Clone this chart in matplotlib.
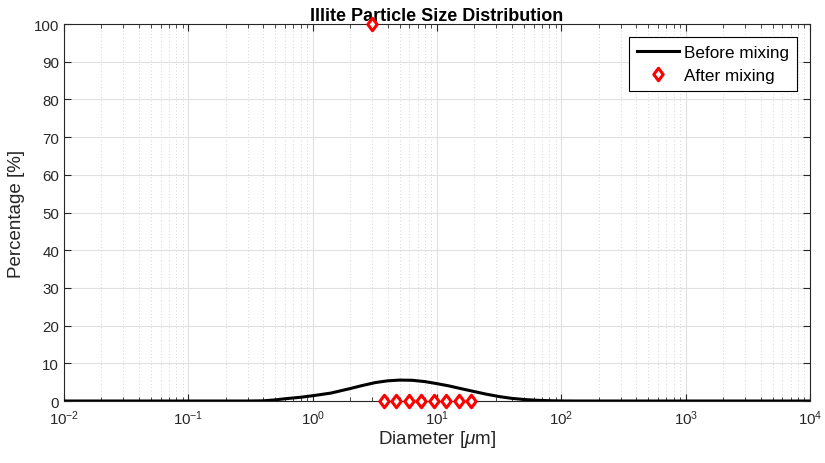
import matplotlib
matplotlib.use('Agg')
import matplotlib.pyplot as plt
from matplotlib.path import Path
from matplotlib.ticker import LogLocator, MultipleLocator

plt.rcParams['font.family'] = ['Liberation Sans', 'DejaVu Sans']
plt.rcParams['mathtext.fontset'] = 'custom'
plt.rcParams['mathtext.it'] = 'Liberation Sans:italic'
plt.rcParams['mathtext.rm'] = 'Liberation Sans'

# before mixing: distribution curve
before_d = [0.01, 0.3, 0.4, 0.5, 0.6, 0.8, 1.0, 1.4, 2.0, 2.5, 3.2, 4.0, 5.0, 6.3,
            8.0, 10, 12.5, 16, 20, 25, 32, 40, 50, 63, 80, 100, 130, 10000]
before_p = [0, 0, 0.05, 0.3, 0.6, 1.0, 1.4, 2.1, 3.3, 4.1, 4.9, 5.35, 5.55, 5.5,
            5.15, 4.6, 4.0, 3.2, 2.5, 1.8, 1.15, 0.7, 0.4, 0.2, 0.08, 0.02, 0, 0]

# after mixing: discrete points
after_d = [3.0, 3.75, 4.72, 5.95, 7.5, 9.45, 11.9, 15.0, 18.9]
after_p = [100, 0, 0, 0, 0, 0, 0, 0, 0]

# MATLAB-like diamond (a bit narrower than tall)
diamond = Path([(0, 1), (0.75, 0), (0, -1), (-0.75, 0), (0, 1)],
               [Path.MOVETO, Path.LINETO, Path.LINETO, Path.LINETO, Path.CLOSEPOLY])

fig = plt.figure(figsize=(8.25, 4.64), dpi=100)
ax = fig.add_axes([0.0776, 0.1336, 0.9042, 0.8124])

ax.plot(before_d, before_p, color='black', lw=2.2, label='Before mixing', zorder=3)
ax.plot(after_d, after_p, ls='none', marker=diamond, ms=9, mfc='white', mec='red',
        mew=2.2, label='After mixing', zorder=4, clip_on=False)

ax.set_xscale('log')
ax.set_xlim(1e-2, 1e4)
ax.set_ylim(0, 100)
ax.yaxis.set_major_locator(MultipleLocator(10))
ax.xaxis.set_major_locator(LogLocator(base=10, numticks=20))
ax.xaxis.set_minor_locator(LogLocator(base=10, subs=range(2, 10), numticks=20))

ax.grid(True, which='major', color='#e0e0e0', lw=0.8)
ax.grid(True, which='minor', axis='x', color='#c8c8c8', lw=0.6, ls=(0, (1, 3)))
ax.set_axisbelow(True)

for s in ax.spines.values():
    s.set_color('#262626')
    s.set_linewidth(0.8)
ax.tick_params(which='both', direction='in', top=True, right=True,
               colors='#262626', labelsize=10.8)
ax.tick_params(which='major', length=5)
ax.tick_params(which='minor', length=3)
ax.tick_params(axis='x', which='major', pad=5)

ax.set_xlabel(r'Diameter [$\mu$m]', fontsize=13.5, color='#262626', labelpad=1)
ax.set_ylabel('Percentage [%]', fontsize=13.5, color='#262626', labelpad=6)
ax.set_title('Illite Particle Size Distribution', fontsize=13, fontweight='bold', pad=1)

leg = ax.legend(loc='upper right', fontsize=12.3, frameon=True, fancybox=False,
                edgecolor='black', framealpha=1, borderpad=0.45, handlelength=2.5,
                handletextpad=0.3, labelspacing=0.5, borderaxespad=0.75)
leg.get_frame().set_linewidth(0.8)

fig.savefig('out.png', dpi=100)
